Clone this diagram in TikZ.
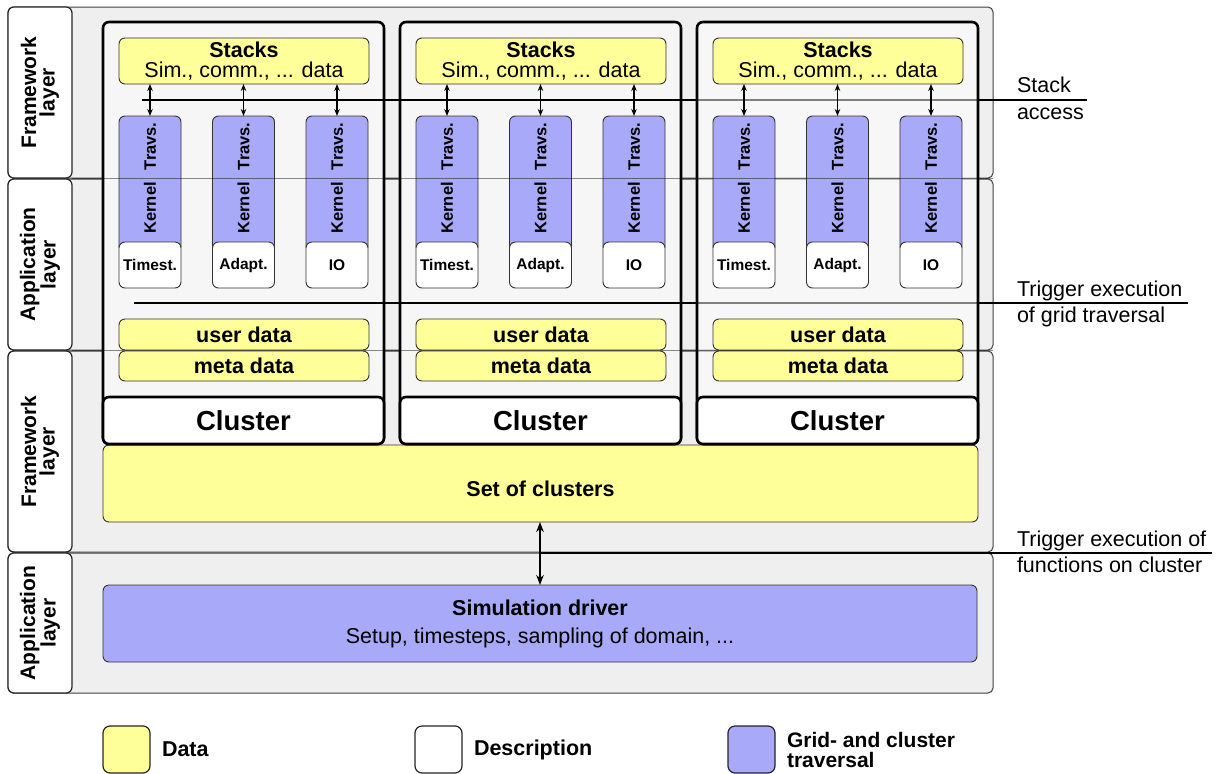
\documentclass[tikz,border=0pt]{standalone}
\usepackage{fontspec}
\setmainfont{Liberation Sans}
\usetikzlibrary{arrows.meta}

\definecolor{datay}{HTML}{FFFF99}
\definecolor{travb}{HTML}{A9A9F9}
\definecolor{bandg}{HTML}{EFEFEF}
\definecolor{inner}{HTML}{F6F6F6}

\begin{document}
\begin{tikzpicture}[x=1pt,y=-1pt,
  every node/.style={inner sep=0pt, outer sep=0pt},
  txt/.style={font=\fontsize{21.5pt}{20pt}\selectfont},
  btxt/.style={font=\fontsize{21.5pt}{20pt}\selectfont\bfseries},
  band/.style={draw=black!75, line width=1pt, fill=bandg, rounded corners=5pt},
  layerbox/.style={draw=black!85, line width=1.2pt, fill=white, rounded corners=6pt},
  layertxt/.style={rotate=90, align=center, font=\fontsize{21pt}{18.5pt}\selectfont\bfseries},
  frame/.style={draw=black, line width=2.6pt, rounded corners=6pt},
  databox/.style={draw=black!80, line width=0.9pt, fill=datay, rounded corners=6pt},
  travbox/.style={draw=black!80, line width=0.9pt, fill=travb, rounded corners=6pt},
  descbox/.style={draw=black!80, line width=0.9pt, fill=white, rounded corners=6pt},
  kern/.style={rotate=90, font=\fontsize{16.5pt}{18pt}\selectfont\bfseries},
  desc/.style={font=\fontsize{15.5pt}{18pt}\selectfont\bfseries},
  access/.style={line width=1.3pt, {Stealth[length=7pt,width=5.5pt]}-{Stealth[length=7pt,width=5.5pt]}},
  trig/.style={draw=black, line width=2.6pt},
  boundary/.style={draw=black, line width=1pt, opacity=0.45},
  legbox/.style={draw=black!85, line width=1.2pt, rounded corners=7pt,
    minimum width=47pt, minimum height=47pt},
]
\useasboundingbox (0,0) rectangle (1219,774);

% layer bands
\node[band, anchor=north west, minimum width=985pt, minimum height=171pt] (b1) at (8,7) {};
\node[band, anchor=north west, minimum width=985pt, minimum height=171pt] (b2) at (8,179) {};
\node[band, anchor=north west, minimum width=985pt, minimum height=201pt] (b3) at (8,351) {};
\node[band, anchor=north west, minimum width=985pt, minimum height=140pt] (b4) at (8,553) {};

% layer captions
\node[layerbox, anchor=north west, minimum width=64pt, minimum height=171pt] (l1) at (8,7) {};
\node[layerbox, anchor=north west, minimum width=64pt, minimum height=171pt] (l2) at (8,179) {};
\node[layerbox, anchor=north west, minimum width=64pt, minimum height=201pt] (l3) at (8,351) {};
\node[layerbox, anchor=north west, minimum width=64pt, minimum height=140pt] (l4) at (8,553) {};
\node[layertxt] (lt1) at (l1.center) {Framework\\layer};
\node[layertxt] (lt2) at (l2.center) {Application\\layer};
\node[layertxt] (lt3) at (l3.center) {Framework\\layer};
\node[layertxt] (lt4) at (l4.center) {Application\\layer};

% set of clusters
\node[databox, anchor=north west, minimum width=875pt, minimum height=77pt] (set) at (103,445) {};
\node[btxt] (settxt) at (540.5,489) {Set of clusters};

% cluster frames (first two)
\node[frame, fill=inner, anchor=north west, minimum width=281pt, minimum height=422pt] (c1) at (103,22) {};
\node[frame, fill=inner, anchor=north west, minimum width=281pt, minimum height=422pt] (c2) at (400,22) {};

% horizontal trigger lines
\coordinate (sa0) at (142,100);
\coordinate (sa1) at (1087,100);
\coordinate (tg0) at (134,303);
\coordinate (tg1) at (1188,303);
\draw[trig] (sa0) -- (sa1);
\draw[trig] (tg0) -- (tg1);

% third cluster frame, lighter over the lines
\node[frame, fill=white, fill opacity=0.5, anchor=north west, minimum width=281pt, minimum height=422pt] (c3) at (697,22) {};

% cluster contents
\foreach \i in {1,2,3} {
  \pgfmathsetmacro{\L}{103+297*(\i-1)}
  \node[databox, txt, align=center, minimum width=250pt, minimum height=46pt] (st\i) at (\L+141,61)
    {\textbf{Stacks}\\Sim., comm., ... data};
  \foreach \j/\dx/\d in {1/47/Timest., 2/140.5/Adapt., 3/234/IO} {
    \node[travbox, anchor=north, minimum width=62pt, minimum height=136pt] (k\i\j) at (\L+\dx,116) {};
    \node[kern] (kt\i\j) at (\L+\dx,178) {Kernel\hspace{12pt}Travs.};
    \node[descbox, desc, anchor=north, minimum width=62pt, minimum height=46pt] (d\i\j) at (\L+\dx,242) {\d};
    \draw[access] (st\i.south -| k\i\j.north) -- (k\i\j.north);
  }
  \node[databox, btxt, minimum width=250pt, minimum height=31pt] (ud\i) at (\L+141,334.5) {user data};
  \node[databox, btxt, minimum width=250pt, minimum height=30pt] (md\i) at (\L+141,366) {meta data};
  \node[frame, fill=white, font=\fontsize{27.5pt}{30pt}\selectfont\bfseries,
    minimum width=281pt, minimum height=47pt] (cl\i) at (\L+140.5,420.5) {Cluster};
}

% simulation driver
\node[travbox, align=center, minimum width=874pt, minimum height=77pt,
  font=\fontsize{21.5pt}{28pt}\selectfont] (sim) at (540,623.5)
  {\textbf{Simulation driver}\\Setup, timesteps, sampling of domain, ...};
\coordinate (tc0) at (540,553);
\coordinate (tc1) at (1212,553);
\draw[trig] (tc0) -- (tc1);
\draw[line width=2pt, {Stealth[length=10pt,width=7.5pt]}-{Stealth[length=10pt,width=7.5pt]}]
  (set.south -| sim.north) -- (sim.north);

% band boundaries seen through the clusters
\coordinate (bd0) at (72,178.5);
\coordinate (bd1) at (993,178.5);
\coordinate (bd2) at (72,350.5);
\coordinate (bd3) at (993,350.5);
\draw[boundary] (bd0) -- (bd1);
\draw[boundary] (bd2) -- (bd3);

% annotations on the right
\node[txt, anchor=base west] (n1) at (1017,92) {Stack};
\node[txt, anchor=base west] (n2) at (1017,119) {access};
\node[txt, anchor=base west] (n3) at (1017,296) {Trigger execution};
\node[txt, anchor=base west] (n4) at (1017,322) {of grid traversal};
\node[txt, anchor=base west] (n5) at (1017,546) {Trigger execution of};
\node[txt, anchor=base west] (n6) at (1017,572) {functions on cluster};

% legend
\node[legbox, fill=datay] (lg1) at (126.5,749.5) {};
\node[btxt, anchor=west] (lgt1) at (162,749.5) {Data};
\node[legbox, fill=white] (lg2) at (438.5,749.5) {};
\node[btxt, anchor=west] (lgt2) at (474,749.5) {Description};
\node[legbox, fill=travb] (lg3) at (751.5,749.5) {};
\node[anchor=west, align=left, font=\fontsize{21pt}{20pt}\selectfont\bfseries] (lgt3) at (787,750)
  {Grid- and cluster\\traversal};
\end{tikzpicture}
\end{document}
